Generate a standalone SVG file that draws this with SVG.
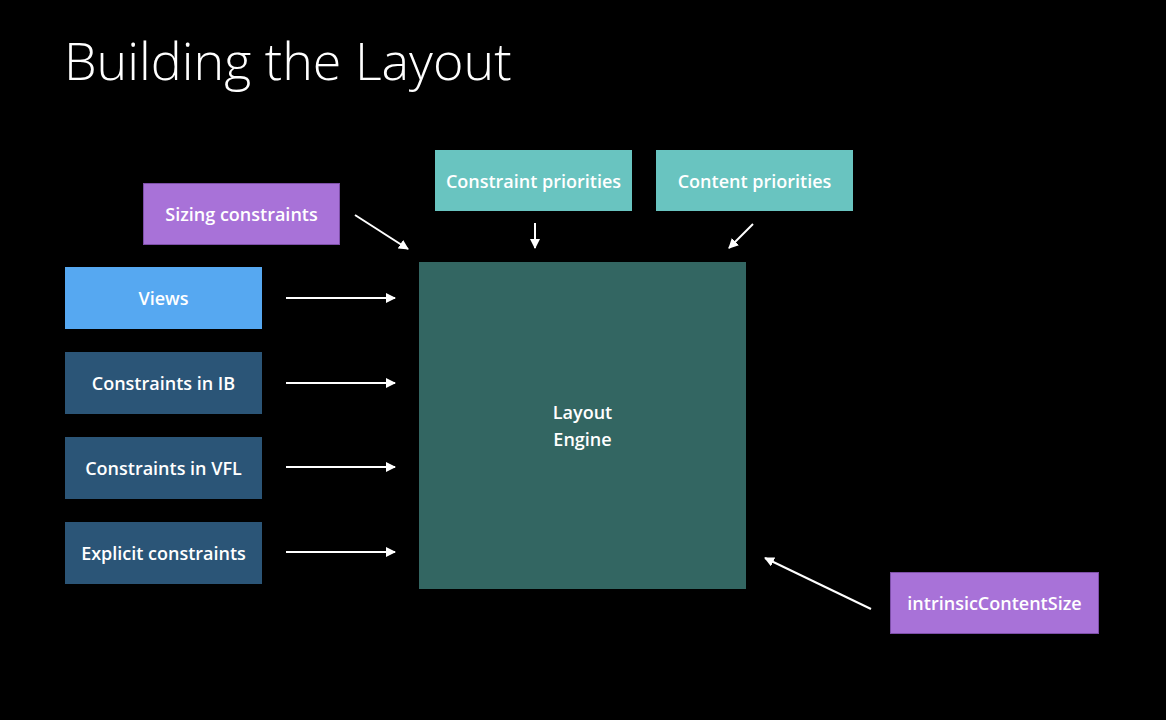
<svg xmlns="http://www.w3.org/2000/svg" width="1166" height="720" viewBox="0 0 1166 720">
<defs>
<style>
.lbl{font-family:"Open Sans","Liberation Sans",sans-serif;font-size:18px;font-weight:600;fill:#ffffff;text-anchor:middle;dominant-baseline:central}
.purple{fill:#a872d8;stroke:#7d4fa8;stroke-width:1}
.teal{fill:#69c4c0}
.blue{fill:#56a8f1}
.navy{fill:#2b5577}
.engine{fill:#336662}
.conn line{stroke:#ffffff;stroke-width:2;marker-end:url(#ah)}
</style>
<marker id="ah" viewBox="0 0 10 10" refX="9" refY="5" markerWidth="5" markerHeight="5" orient="auto" markerUnits="strokeWidth">
<path d="M0,0 L10,5 L0,10 z" fill="#ffffff"/>
</marker>
</defs>
<rect width="1166" height="720" fill="#000000"/>
<text x="64" y="80" font-family="Open Sans, Lato, Liberation Sans, sans-serif" font-size="52" font-weight="300" fill="#ffffff">Building the Layout</text>

<g id="engine"><rect class="engine" x="419" y="262" width="327" height="327"/>
<text class="lbl" x="582.5" y="412">Layout</text><text class="lbl" x="582.5" y="439">Engine</text></g>

<g id="sizing"><rect class="purple" x="143.5" y="183.5" width="196" height="61"/><text class="lbl" x="241.5" y="214">Sizing constraints</text></g>
<g id="cpri"><rect class="teal" x="435" y="150" width="197" height="61"/><text class="lbl" x="533.5" y="181">Constraint priorities</text></g>
<g id="contpri"><rect class="teal" x="656" y="150" width="197" height="61"/><text class="lbl" x="754.5" y="181">Content priorities</text></g>
<g id="views"><rect class="blue" x="65" y="267" width="197" height="62"/><text class="lbl" x="163.5" y="298">Views</text></g>
<g id="ib"><rect class="navy" x="65" y="352" width="197" height="62"/><text class="lbl" x="163.5" y="383">Constraints in IB</text></g>
<g id="vfl"><rect class="navy" x="65" y="437" width="197" height="62"/><text class="lbl" x="163.5" y="468">Constraints in VFL</text></g>
<g id="explicit"><rect class="navy" x="65" y="522" width="197" height="62"/><text class="lbl" x="163.5" y="553">Explicit constraints</text></g>
<g id="intrinsic"><rect class="purple" x="890.5" y="572.5" width="208" height="61"/><text class="lbl" x="994.5" y="603">intrinsicContentSize</text></g>

<g id="connectors" class="conn">
<line x1="286" y1="298" x2="395" y2="298"/>
<line x1="286" y1="383" x2="395" y2="383"/>
<line x1="286" y1="467" x2="395" y2="467"/>
<line x1="286" y1="552" x2="395" y2="552"/>
<line x1="355" y1="215" x2="408" y2="249"/>
<line x1="535" y1="223" x2="535" y2="248"/>
<line x1="753" y1="224" x2="729" y2="248"/>
<line x1="871" y1="609" x2="765" y2="558"/>
</g>
</svg>
